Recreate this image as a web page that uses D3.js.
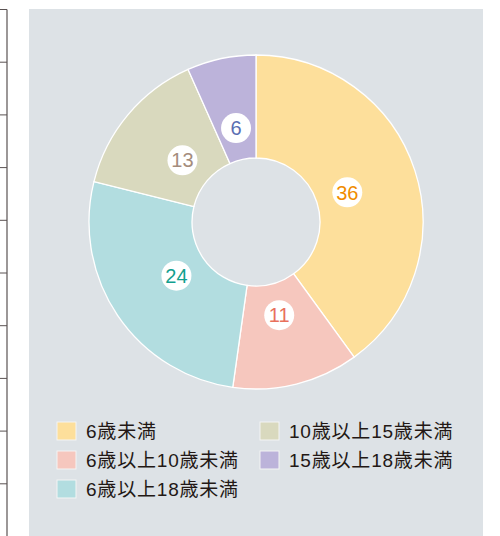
<!DOCTYPE html>
<html>
<head>
<meta charset="utf-8">
<script src="https://cdn.jsdelivr.net/npm/d3@7"></script>
<style>
  body { margin: 0; background: #fff; }
  svg { display: block; font-family: "Liberation Sans", Arial, "Noto Sans CJK JP", sans-serif; }
</style>
</head>
<body>
<svg id="chart"></svg>
<script>
// 年齢区分と件数
const categories = ['6歳未満', '6歳以上10歳未満', '6歳以上18歳未満', '10歳以上15歳未満', '15歳以上18歳未満'];
const values = [36, 11, 24, 13, 6];
const sliceColors = ['#fddf9b', '#f6c7be', '#b2dde0', '#d9d9be', '#bcb3da'];
const labelColors = ['#f08c00', '#e8705c', '#12a08f', '#a48c7c', '#5b6eb2'];
// 凡例の並び（2列）
const legendOrder = [0, 3, 1, 4, 2];

const width = 500, height = 536;
const cx = 256, cy = 222;
const outerR = 167, innerR = 64, labelR = 96;

const svg = d3.select('#chart')
  .attr('width', width)
  .attr('height', height);

// left table edge (decoration)
const edge = svg.append('g');
edge.append('line')
  .attr('x1', 7).attr('x2', 7)
  .attr('y1', 9.5).attr('y2', height)
  .attr('stroke', '#5a5252').attr('stroke-width', 1.2);
edge.selectAll('line.row')
  .data(d3.range(10))
  .enter()
  .append('line')
  .attr('class', 'row')
  .attr('x1', 0).attr('x2', 7)
  .attr('y1', d => 9.5 + d * 52.7)
  .attr('y2', d => 9.5 + d * 52.7)
  .attr('stroke', '#5a5252').attr('stroke-width', 1);

// panel
svg.append('rect')
  .attr('x', 29).attr('y', 9)
  .attr('width', 454).attr('height', height - 9)
  .attr('fill', '#dde2e6');

const pie = d3.pie().sort(null).value(d => d);
const arcs = pie(values);

const arc = d3.arc().innerRadius(innerR).outerRadius(outerR);
const labelArc = d3.arc().innerRadius(labelR).outerRadius(labelR);

const chart = svg.append('g')
  .attr('transform', `translate(${cx}, ${cy})`);

chart.selectAll('path')
  .data(arcs)
  .enter()
  .append('path')
  .attr('d', arc)
  .attr('fill', (d, i) => sliceColors[i])
  .attr('stroke', '#fff')
  .attr('stroke-width', 1.3);

const labels = chart.selectAll('g.label')
  .data(arcs)
  .enter()
  .append('g')
  .attr('class', 'label')
  .attr('transform', d => `translate(${labelArc.centroid(d)})`);

labels.append('circle')
  .attr('r', 15)
  .attr('fill', '#fff');

labels.append('text')
  .attr('text-anchor', 'middle')
  .attr('dy', '0.36em')
  .attr('font-size', 20)
  .attr('fill', (d, i) => labelColors[i])
  .text(d => d.data);

// legend
const legend = svg.append('g');
const item = legend.selectAll('g')
  .data(legendOrder)
  .enter()
  .append('g')
  .attr('transform', (d, i) => `translate(${i % 2 === 0 ? 57 : 260}, ${422 + Math.floor(i / 2) * 29})`);

item.append('rect')
  .attr('width', 19).attr('height', 18)
  .attr('fill', d => sliceColors[d])
  .attr('stroke', '#f4f4f4')
  .attr('stroke-width', 1);

item.append('text')
  .attr('x', 29)
  .attr('y', 9)
  .attr('dy', '0.36em')
  .attr('font-size', 19)
  .attr('letter-spacing', 0.8)
  .attr('fill', '#231815')
  .text(d => categories[d]);
</script>
</body>
</html>
